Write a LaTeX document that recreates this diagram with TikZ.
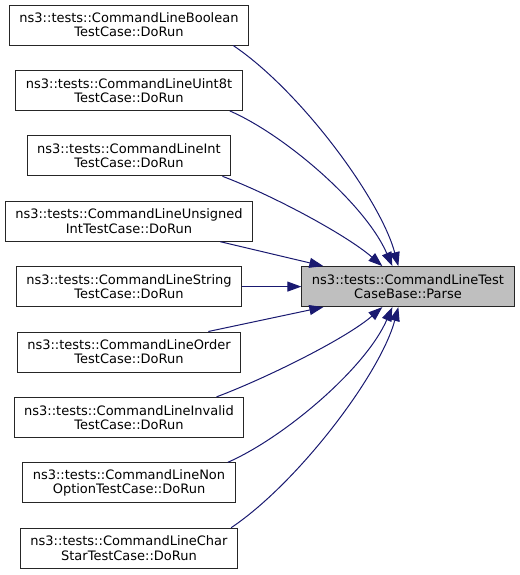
\documentclass[tikz,border=0pt]{standalone}
\usepackage{fontspec}
\setmainfont{DejaVu Sans}
\usepackage{tikz}
\usetikzlibrary{shapes,positioning,arrows.meta}

\definecolor{edgeblue}{HTML}{191970}
\definecolor{targetgray}{HTML}{BFBFBF}

\begin{document}
\begin{tikzpicture}[x=0.75pt,y=-0.75pt,>={Triangle[length=10.5pt,width=7.5pt]},line width=0.75pt]
\tikzstyle{caller} = [draw=black!85, fill=white, shape=rectangle, align=center, minimum height=30pt, inner xsep=7.6pt, font=\fontsize{9.75pt}{10.7pt}\selectfont]
\tikzstyle{target} = [caller, fill=targetgray]
\tikzstyle{edge} = [->, draw=edgeblue]

\useasboundingbox (0,0) rectangle (520,575);

% Callers
\node [caller] at (129,25) (bool) {ns3::tests::CommandLineBoolean\\TestCase::DoRun};
\node [caller, below of=bool, node distance=49.05pt] (uint) {ns3::tests::CommandLineUint8t\\TestCase::DoRun};
\node [caller, below of=uint, node distance=49.05pt] (int) {ns3::tests::CommandLineInt\\TestCase::DoRun};
\node [caller, below of=int, node distance=49.05pt] (unsig) {ns3::tests::CommandLineUnsigned\\IntTestCase::DoRun};
\node [caller, below of=unsig, node distance=49.05pt] (str) {ns3::tests::CommandLineString\\TestCase::DoRun};
\node [caller, below of=str, node distance=49.05pt] (order) {ns3::tests::CommandLineOrder\\TestCase::DoRun};
\node [caller, below of=order, node distance=49.05pt] (inval) {ns3::tests::CommandLineInvalid\\TestCase::DoRun};
\node [caller, below of=inval, node distance=49.05pt] (nonopt) {ns3::tests::CommandLineNon\\OptionTestCase::DoRun};
\node [caller, below of=nonopt, node distance=49.05pt] (chstar) {ns3::tests::CommandLineChar\\StarTestCase::DoRun};

% Parse
\node [target, right of=str, node distance=209.25pt] (parse) {ns3::tests::CommandLineTest\\CaseBase::Parse};

% Edges above
\draw[edge] ([xshift=-12pt]bool.south east) .. controls +(67,45) and +(-18,-67) .. ([xshift=72.75pt]parse.north west);
\draw[edge] ([xshift=-9.75pt]uint.south east) .. controls +(55,24) and +(-27,-62) .. ([xshift=68.25pt]parse.north west);
\draw[edge] ([xshift=-6.75pt]int.south east) .. controls +(48,18) and +(-37,-32) .. ([xshift=60.75pt]parse.north west);
\draw[edge] ([xshift=-24.75pt]unsig.south east) -- ([xshift=16.5pt]parse.north west);
\draw[edge] (str) -- (parse);

% Edges below
\draw[edge] ([xshift=-24.75pt]order.north east) -- ([xshift=16.5pt]parse.south west);
\draw[edge] ([xshift=-21pt]inval.north east) .. controls +(48,-18) and +(-37,32) .. ([xshift=60.75pt]parse.south west);
\draw[edge] ([xshift=-6pt]nonopt.north east) .. controls +(55,-24) and +(-27,62) .. ([xshift=68.25pt]parse.south west);
\draw[edge] ([xshift=-5.25pt]chstar.north east) .. controls +(67,-45) and +(-18,67) .. ([xshift=72.75pt]parse.south west);

\end{tikzpicture}
\end{document}
